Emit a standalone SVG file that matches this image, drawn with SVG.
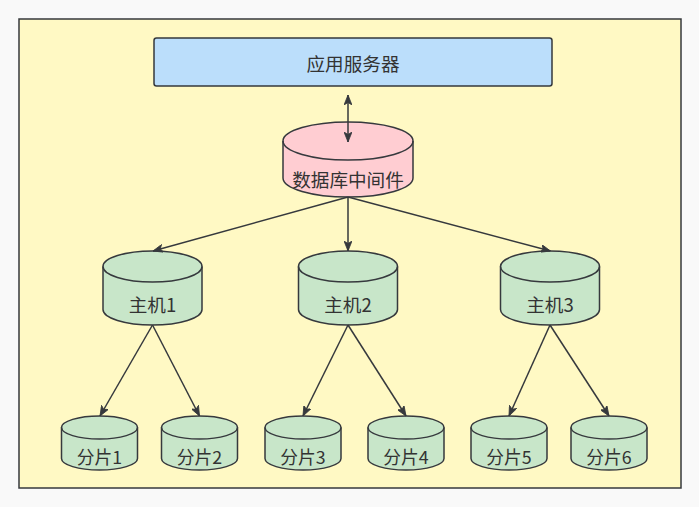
<svg xmlns="http://www.w3.org/2000/svg" width="699" height="507" viewBox="0 0 699 507">
<style>
.bd{stroke:#36393d;stroke-width:1.5}
.t{font-family:"Noto Sans CJK SC","Noto Sans",sans-serif;fill:#333333;text-anchor:middle;dominant-baseline:central}
.g{fill:#c8e6c9}
.c{fill:none;stroke:#36393d;stroke-width:1.5}
</style>
<defs>
<marker id="ah" viewBox="0 0 10 8" refX="10" refY="4" markerWidth="10" markerHeight="8" markerUnits="userSpaceOnUse" orient="auto-start-reverse">
<path d="M0,0 L10,4 L0,8 L2.5,4 Z" fill="#36393d" stroke="#36393d" stroke-width="0.8"/>
</marker>
</defs>
<rect width="699" height="507" fill="#f9f9f9"/>
<rect id="frame" x="19" y="19" width="662" height="469" fill="#fff9c4" class="bd"/>
<g id="app-server">
<rect x="154" y="38" width="398" height="48" rx="2.5" fill="#bbdefb" class="bd"/>
<text x="353" y="62" class="t" font-size="18.6">应用服务器</text>
</g>
<g id="middleware">
<path d="M283,141 A65,19 0 0 1 413,141 L413,178 A65,19 0 0 1 283,178 Z" fill="#ffcdd2" class="bd"/>
<path d="M283,141 A65,19 0 0 0 413,141" class="c"/>
<text x="348" y="178.5" class="t" font-size="18.6">数据库中间件</text>
</g>
<g id="host1">
<path d="M103,266.5 A49.5,15.5 0 0 1 202,266.5 L202,309.5 A49.5,15.5 0 0 1 103,309.5 Z" class="g bd"/>
<path d="M103,266.5 A49.5,15.5 0 0 0 202,266.5" class="c"/>
<text x="152.5" y="303" class="t" font-size="18.6">主机1</text>
</g>
<g id="host2">
<path d="M298.5,266.5 A49.5,15.5 0 0 1 397.5,266.5 L397.5,309.5 A49.5,15.5 0 0 1 298.5,309.5 Z" class="g bd"/>
<path d="M298.5,266.5 A49.5,15.5 0 0 0 397.5,266.5" class="c"/>
<text x="348" y="303" class="t" font-size="18.6">主机2</text>
</g>
<g id="host3">
<path d="M500.5,266.5 A49.5,15.5 0 0 1 599.5,266.5 L599.5,309.5 A49.5,15.5 0 0 1 500.5,309.5 Z" class="g bd"/>
<path d="M500.5,266.5 A49.5,15.5 0 0 0 599.5,266.5" class="c"/>
<text x="550" y="303" class="t" font-size="18.6">主机3</text>
</g>
<g id="shard1">
<path d="M61.5,427.5 A38,11.5 0 0 1 137.5,427.5 L137.5,458.5 A38,11.5 0 0 1 61.5,458.5 Z" class="g bd"/>
<path d="M61.5,427.5 A38,11.5 0 0 0 137.5,427.5" class="c"/>
<text x="99.5" y="456" class="t" font-size="17.8">分片1</text>
</g>
<g id="shard2">
<path d="M161.5,427.5 A38,11.5 0 0 1 237.5,427.5 L237.5,458.5 A38,11.5 0 0 1 161.5,458.5 Z" class="g bd"/>
<path d="M161.5,427.5 A38,11.5 0 0 0 237.5,427.5" class="c"/>
<text x="199.5" y="456" class="t" font-size="17.8">分片2</text>
</g>
<g id="shard3">
<path d="M265,427.5 A38,11.5 0 0 1 341,427.5 L341,458.5 A38,11.5 0 0 1 265,458.5 Z" class="g bd"/>
<path d="M265,427.5 A38,11.5 0 0 0 341,427.5" class="c"/>
<text x="303" y="456" class="t" font-size="17.8">分片3</text>
</g>
<g id="shard4">
<path d="M368,427.5 A38,11.5 0 0 1 444,427.5 L444,458.5 A38,11.5 0 0 1 368,458.5 Z" class="g bd"/>
<path d="M368,427.5 A38,11.5 0 0 0 444,427.5" class="c"/>
<text x="406" y="456" class="t" font-size="17.8">分片4</text>
</g>
<g id="shard5">
<path d="M471,427.5 A38,11.5 0 0 1 547,427.5 L547,458.5 A38,11.5 0 0 1 471,458.5 Z" class="g bd"/>
<path d="M471,427.5 A38,11.5 0 0 0 547,427.5" class="c"/>
<text x="509" y="456" class="t" font-size="17.8">分片5</text>
</g>
<g id="shard6">
<path d="M571,427.5 A38,11.5 0 0 1 647,427.5 L647,458.5 A38,11.5 0 0 1 571,458.5 Z" class="g bd"/>
<path d="M571,427.5 A38,11.5 0 0 0 647,427.5" class="c"/>
<text x="609" y="456" class="t" font-size="17.8">分片6</text>
</g>
<g id="connectors" class="c">
<line x1="348" y1="95" x2="348" y2="142" marker-start="url(#ah)" marker-end="url(#ah)"/>
<line x1="348" y1="197" x2="153" y2="251" marker-end="url(#ah)"/>
<line x1="348" y1="197" x2="348" y2="251" marker-end="url(#ah)"/>
<line x1="348" y1="197" x2="550.5" y2="251" marker-end="url(#ah)"/>
<line x1="152.5" y1="325" x2="100" y2="416" marker-end="url(#ah)"/>
<line x1="152.5" y1="325" x2="199.5" y2="416" marker-end="url(#ah)"/>
<line x1="348" y1="325" x2="303" y2="416" marker-end="url(#ah)"/>
<line x1="348" y1="325" x2="406" y2="416" marker-end="url(#ah)"/>
<line x1="550" y1="325" x2="509" y2="416" marker-end="url(#ah)"/>
<line x1="550" y1="325" x2="609" y2="416" marker-end="url(#ah)"/>
</g>
</svg>
